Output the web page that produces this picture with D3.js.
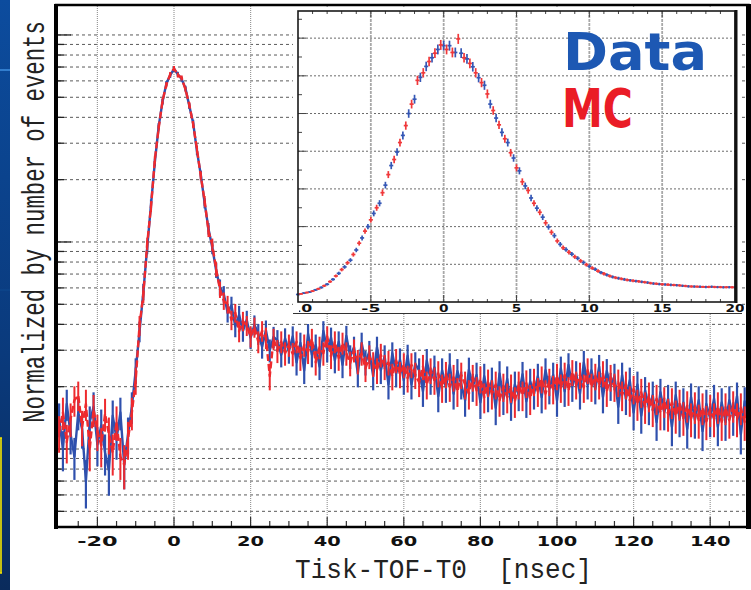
<!DOCTYPE html>
<html><head><meta charset="utf-8">
<script src="https://cdn.jsdelivr.net/npm/d3@7/dist/d3.min.js"></script>
<style>body{margin:0;background:#fff;overflow:hidden} svg{display:block} text{white-space:pre}</style>
</head><body><svg id="c" width="751" height="590"></svg>
<script>
// ---------------- data ----------------
const xTicks = [-20, 0, 20, 40, 60, 80, 100, 120, 140];
const xTickLabels = ["-20", "0", "20", "40", "60", "80", "100", "120", "140"];
const binStart = -30, binWidth = 1;   // main histogram: 1 ns bins from -30 to 150
const dataCounts = [
 140,100,165,118,92,150,125,70,135,160,105,130,96,79,145,112,150,84,118,
 160,240,370,575,940,1520,2430,3620,4760,5820,6380,6850,6460,6120,5520,4540,3760,2740,2110,1540,1160,940,730,605,
 560,455,495,390,445,372,420,345,398,360,312,375,300,348,335,285,342,296,
 350,262,325,240,360,285,318,250,
 372,300,345,268,
 330,255,352,280,
 310,232,325,262,
 295,225,310,240,280,
 205,290,232,270,215,
 282,205,258,240,190,
 268,215,248,180,240,
 198,255,185,238,205,
 172,242,200,228,168,
 225,180,215,158,232,
 175,218,165,205,182,
 230,170,212,185,225,
 178,240,195,228,172,
 245,190,255,200,232,
 185,262,205,240,195,
 250,178,238,202,225,
 160,228,175,215,150,
 205,145,192,158,182,
 135,188,150,175,128,
 182,140,168,125,178,
 138,172,122,165,140,
 175,128,168,135,172,
 142,180,118,170,150
];
const mcCounts = [
 120,150,108,140,172,182,128,165,100,155,122,104,148,118,96,135,92,84,112,
 150,215,395,560,980,1480,2500,3550,4800,5750,6450,6900,6400,6200,5450,4600,3700,2800,2080,1580,1130,970,740,590,
 520,500,420,455,370,415,395,350,388,330,372,345,225,340,298,330,290,318,
 288,330,275,318,295,340,262,310,
 290,350,280,330,
 275,325,290,260,
 300,265,290,245,
 280,258,240,285,250,
 262,225,268,230,255,
 220,255,228,210,250,
 205,240,215,232,198,
 230,200,222,190,228,
 205,185,222,192,218,
 178,210,185,205,172,
 200,178,198,170,205,
 182,208,175,212,190,
 218,185,212,195,225,
 198,228,192,235,205,
 228,198,240,200,225,
 205,232,190,222,200,
 210,182,205,172,195,
 165,188,160,180,155,
 175,150,170,148,168,
 145,165,142,162,140,
 160,138,158,136,155,
 140,160,135,158,138,
 162,140,158,135,160
];

const insetXTicks = [-10, -5, 0, 5, 10, 15, 20];
const insetXTickLabels = ["-10", "-5", "0", "5", "10", "15", "20"];
const insetGridY = [1000, 2000, 3000, 4000, 5000, 6000, 7000];
const insetDataStart = -10, insetMcStart = -9.8, insetStep = 0.4;
const insetData = [
 200,235,265,320,385,470,600,760,930,1110,1380,1700,2000,2350,2620,3100,3620,3980,4420,5000,
 5380,5960,6250,6480,6700,6800,6800,6620,6600,6450,6240,5950,5750,5250,4880,4500,4230,3820,3480,3080,
 2760,2490,2250,1990,1760,1530,1390,1270,1160,1050,950,870,780,720,665,630,600,575,555,535,
 515,490,475,465,455,445,430,415,410,405,400,405,395,390,392,388
];
const insetMc = [
 215,250,290,350,430,540,690,860,1040,1260,1560,1880,2180,2500,2900,3380,3780,4230,4680,5250,
 5880,6080,6380,6600,6820,6700,6620,6980,6480,6330,6080,5820,5520,5080,4700,4330,3960,3560,3190,2960,
 2620,2380,2100,1850,1620,1440,1320,1200,1090,990,900,820,750,690,645,615,585,565,545,525,
 500,485,470,460,450,440,425,412,408,402,400,398,395,392,390
];
const xTitle = "Tisk-TOF-T0  [nsec]";
const yTitle = "Normalized by number of events";
const legendLabels = ["Data", "MC"];

// ---------------- drawing ----------------
const svg = d3.select("#c");
const BLUE = "#2f50ad", RED = "#ee2a2e";

// slide background strip
const defs = svg.append("defs");
const g1 = defs.append("linearGradient").attr("id","strip").attr("x1",0).attr("y1",0).attr("x2",0).attr("y2",1);
g1.append("stop").attr("offset","0%").attr("stop-color","#0c4c9e");
g1.append("stop").attr("offset","60%").attr("stop-color","#0a3a7c");
g1.append("stop").attr("offset","100%").attr("stop-color","#0a2b5c");
svg.append("rect").attr("x",0).attr("y",0).attr("width",10).attr("height",590).attr("fill","url(#strip)");
svg.append("line").attr("x1",0).attr("x2",10).attr("y1",70).attr("y2",70).attr("stroke","#3f8fe0").attr("stroke-width",1.5);
svg.append("line").attr("x1",0).attr("x2",10).attr("y1",290).attr("y2",290).attr("stroke","#0e4a90").attr("stroke-width",1);
svg.append("path").attr("d","M1,438 L1,573 M0,438 L2,438 M0,573 L2,573").attr("stroke","#f4e400").attr("stroke-width",1.6).attr("fill","none");

const x = d3.scaleLinear().domain([-30, 150]).range([59.1, 748.5]);
const y = d3.scaleLog().domain([42, 13800]).range([527, 6]);
const L = 58, R = 746, T = 6, B = 526;

defs.append("clipPath").attr("id","plotclip").append("rect").attr("x",L).attr("y",T).attr("width",R-L).attr("height",B-T);

// horizontal grid (log)
const yGrid = y.ticks();
svg.append("g").selectAll("line").data(yGrid).join("line")
  .attr("x1", L).attr("x2", R).attr("y1", d => y(d)).attr("y2", d => y(d))
  .attr("stroke", "#5a5a5a").attr("stroke-width", 1).attr("stroke-dasharray", "3,3");
// vertical grid
svg.append("g").selectAll("line").data(xTicks).join("line")
  .attr("x1", d => x(d)).attr("x2", d => x(d)).attr("y1", T).attr("y2", B)
  .attr("stroke", "#9a9a9a").attr("stroke-width", 1.2).attr("stroke-dasharray", "1,1");
// left ticks
svg.append("g").selectAll("line").data(yGrid).join("line")
  .attr("x1", L).attr("x2", d => Math.abs(Math.log10(d) - Math.round(Math.log10(d))) < 1e-9 ? L + 13 : L + 6)
  .attr("y1", d => y(d)).attr("y2", d => y(d))
  .attr("stroke", "#222").attr("stroke-width", 1.3);
// bottom ticks every 5
const minorX = d3.range(-25, 150, 5);
svg.append("g").selectAll("line").data(minorX).join("line")
  .attr("x1", d => x(d)).attr("x2", d => x(d)).attr("y1", B).attr("y2", d => d % 20 === 0 ? B - 9 : B - 5)
  .attr("stroke", "#333").attr("stroke-width", 1.2);

// main histograms: Poisson-style error bars + connecting line
const xs = dataCounts.map((_, i) => binStart + i * binWidth);
const line = d3.line().x((d, i) => x(xs[i])).y(d => y(d));
const pg = svg.append("g").attr("clip-path", "url(#plotclip)");
function drawHist(vals, color, dash, w) {
  pg.append("g").selectAll("line").data(vals).join("line")
    .attr("x1", (d, i) => x(xs[i])).attr("x2", (d, i) => x(xs[i]))
    .attr("y1", d => y(d + 2.2 * Math.sqrt(d))).attr("y2", d => y(Math.max(d - 2.2 * Math.sqrt(d), 20)))
    .attr("stroke", color).attr("stroke-width", w);
  pg.append("path").datum(vals).attr("d", line).attr("fill", "none")
    .attr("stroke", color).attr("stroke-width", 2.4).attr("stroke-linejoin", "round")
    .attr("stroke-dasharray", dash);
}
drawHist(dataCounts, BLUE, null, 2.2);
drawHist(mcCounts, RED, "7,3", 2.0);

// frame
svg.append("rect").attr("x", 56).attr("y", 5).attr("width", 748.5 - 56).attr("height", 522).attr("fill", "none").attr("stroke", "#000").attr("stroke-width", 2.5);
svg.append("line").attr("x1", 56).attr("x2", 56).attr("y1", 4).attr("y2", 529).attr("stroke", "#000").attr("stroke-width", 4);
svg.append("line").attr("x1", 748.5).attr("x2", 748.5).attr("y1", 4).attr("y2", 529).attr("stroke", "#000").attr("stroke-width", 5);

// x tick labels
svg.append("g").selectAll("text").data(xTicks).join("text")
  .attr("x", d => x(d)).attr("y", 546).attr("text-anchor", "middle")
  .attr("font-family", "DejaVu Sans").attr("font-weight", "bold").attr("font-size", 14.5)
  .attr("textLength", (d, i) => xTickLabels[i].length * 13.5).attr("lengthAdjust", "spacingAndGlyphs")
  .attr("fill", "#111").text((d, i) => xTickLabels[i]);

// axis titles
svg.append("text").attr("x", 443.5).attr("y", 578).attr("text-anchor", "middle")
  .attr("font-family", "Liberation Mono").attr("font-size", 27).attr("fill", "#222")
  .attr("textLength", 297).attr("lengthAdjust", "spacingAndGlyphs").text(xTitle);
// y title: natural width 30*0.6*31 = 558 px, compressed horizontally to ~402 px
svg.append("text").attr("transform", "translate(44,222) rotate(-90) scale(0.72,1)").attr("text-anchor", "middle")
  .attr("font-family", "Liberation Mono").attr("font-size", 31).attr("fill", "#222")
  .text(yTitle);

// ---------------- inset ----------------
const xi = d3.scaleLinear().domain([-10, 20]).range([298, 735]);
const yi = d3.scaleLinear().domain([0, 7720]).range([302, 11]);
const ig = svg.append("g");
ig.append("rect").attr("x", 293).attr("y", 7).attr("width", 449).attr("height", 307).attr("fill", "#fff");
ig.append("line").attr("x1", 293).attr("x2", 742).attr("y1", 313.5).attr("y2", 313.5).attr("stroke", "#333").attr("stroke-width", 1);
// inset grid
ig.append("g").selectAll("line").data(insetGridY).join("line")
  .attr("x1", xi(-10)).attr("x2", xi(20)).attr("y1", d => yi(d)).attr("y2", d => yi(d))
  .attr("stroke", "#6a6a6a").attr("stroke-width", 1).attr("stroke-dasharray", "2,2");
ig.append("g").selectAll("line").data(insetXTicks.slice(1, -1)).join("line")
  .attr("x1", d => xi(d)).attr("x2", d => xi(d)).attr("y1", 11).attr("y2", 302)
  .attr("stroke", "#a8a8a8").attr("stroke-width", 1.8).attr("stroke-dasharray", "3,1");
// inset ticks
const iyt = d3.range(500, 7720, 500);
ig.append("g").selectAll("line").data(iyt).join("line")
  .attr("x1", 298).attr("x2", d => d % 1000 === 0 ? 306 : 302).attr("y1", d => yi(d)).attr("y2", d => yi(d))
  .attr("stroke", "#444").attr("stroke-width", 1);
const ixt = d3.range(-9, 20, 1);
ig.append("g").selectAll("line").data(ixt).join("line")
  .attr("x1", d => xi(d)).attr("x2", d => xi(d)).attr("y1", 302).attr("y2", d => d % 5 === 0 ? 295 : 299)
  .attr("stroke", "#444").attr("stroke-width", 1);
ig.append("g").selectAll("line").data(ixt).join("line")
  .attr("x1", d => xi(d)).attr("x2", d => xi(d)).attr("y1", 11).attr("y2", d => d % 5 === 0 ? 17 : 14)
  .attr("stroke", "#444").attr("stroke-width", 1);

// inset error-bar points
function drawPts(vals, start, color) {
  const pts = vals.map((v, i) => ({ xv: start + i * insetStep, v: v, e: 1.6 * Math.sqrt(v) }));
  const g = ig.append("g").attr("stroke", color).attr("stroke-width", 1.7);
  g.selectAll("line.v").data(pts).join("line").attr("class", "v")
    .attr("x1", d => xi(d.xv)).attr("x2", d => xi(d.xv)).attr("y1", d => yi(d.v - d.e)).attr("y2", d => yi(d.v + d.e));
  g.selectAll("line.h").data(pts).join("line").attr("class", "h")
    .attr("x1", d => xi(d.xv - 0.14)).attr("x2", d => xi(d.xv + 0.14)).attr("y1", d => yi(d.v)).attr("y2", d => yi(d.v));
}
drawPts(insetData, insetDataStart, "#3557b5");
drawPts(insetMc, insetMcStart, "#f0383a");

// inset frame
ig.append("rect").attr("x", 298).attr("y", 11).attr("width", 437).attr("height", 291)
  .attr("fill", "none").attr("stroke", "#1a1a1a").attr("stroke-width", 1.6);
ig.append("line").attr("x1", 736).attr("x2", 736).attr("y1", 10).attr("y2", 303).attr("stroke", "#111").attr("stroke-width", 3);

// inset tick labels
defs.append("clipPath").attr("id", "iclip").append("rect").attr("x", 299).attr("y", 300).attr("width", 445).attr("height", 14);
ig.append("g").attr("clip-path", "url(#iclip)").selectAll("text").data(insetXTicks).join("text")
  .attr("x", d => xi(d)).attr("y", 312).attr("text-anchor", "middle")
  .attr("font-family", "DejaVu Sans").attr("font-weight", "bold").attr("font-size", 10)
  .attr("textLength", (d, i) => insetXTickLabels[i].length * 9.5).attr("lengthAdjust", "spacingAndGlyphs")
  .attr("fill", "#111").text((d, i) => insetXTickLabels[i]);

// legend
svg.append("text").attr("x", 563).attr("y", 70).attr("font-family", "DejaVu Sans").attr("font-weight", "bold")
  .attr("font-size", 52).attr("fill", "#1d58b3").attr("textLength", 144).attr("lengthAdjust", "spacingAndGlyphs").text(legendLabels[0]);
svg.append("text").attr("x", 562).attr("y", 127).attr("font-family", "DejaVu Sans").attr("font-weight", "bold")
  .attr("font-size", 53).attr("fill", "#ea1c26").attr("textLength", 71).attr("lengthAdjust", "spacingAndGlyphs").text(legendLabels[1]);
</script></body></html>
